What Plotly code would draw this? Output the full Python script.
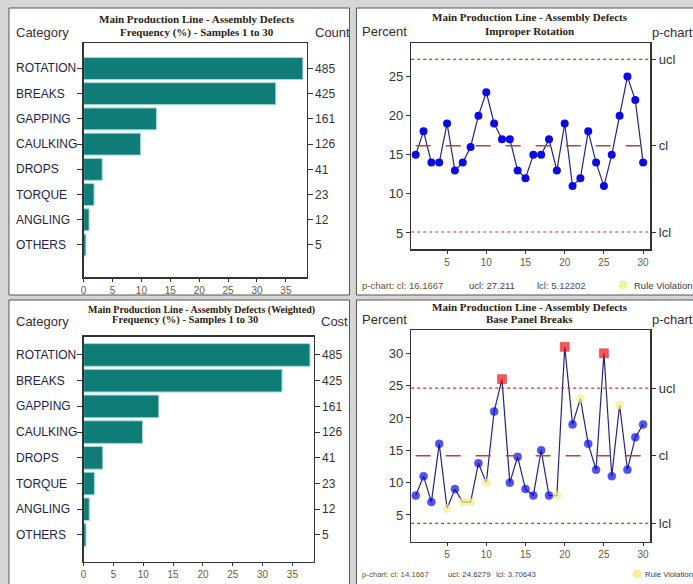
import plotly.graph_objects as go

W, H = 693, 584

# ---------------- data ----------------
categories = ["ROTATION", "BREAKS", "GAPPING", "CAULKING", "DROPS", "TORQUE", "ANGLING", "OTHERS"]
counts = [485, 425, 161, 126, 41, 23, 12, 5]
costs = [485, 425, 161, 126, 41, 23, 12, 5]

samples = list(range(1, 31))
rotation_pct = [15, 18, 14, 14, 19, 13, 14, 16, 20, 23, 19, 17, 17, 13, 12,
                15, 15, 17, 13, 19, 11, 12, 18, 14, 11, 15, 20, 25, 22, 14]
breaks_pct = [8, 11, 7, 16, 6, 9, 7, 7, 13, 10, 21, 26, 10, 14, 9,
              8, 15, 8, 8, 31, 19, 23, 16, 12, 30, 11, 22, 12, 17, 19]
breaks_rule_violation = [5, 7, 8, 10, 19, 22, 27]
breaks_out_of_control = [12, 20, 25]

rot_cl, rot_ucl, rot_lcl = 16.1667, 27.211, 5.12202
brk_cl, brk_ucl, brk_lcl = 14.1667, 24.6279, 3.70643

freq_ticks = [0, 5, 10, 15, 20, 25, 30, 35]
sample_ticks = [5, 10, 15, 20, 25, 30]
rot_yticks = [5, 10, 15, 20, 25]
brk_yticks = [5, 10, 15, 20, 25, 30]

# ---------------- helpers ----------------
def px(x):
    return x / W

def py(y):
    return 1 - y / H

AX = "#333333"
TXT = "#2a2a3a"
TICKNUM = "#6e5a3a"
TEAL = "#0f7c78"
RED = "#c0392b"

pct_count = [c / sum(counts) * 100 for c in counts]
pct_cost = [c / sum(costs) * 100 for c in costs]
idx = list(range(len(categories)))

fig = go.Figure()

# bar charts
fig.add_trace(go.Bar(x=pct_count, y=idx, orientation="h", width=0.87,
                     marker=dict(color=TEAL, line=dict(color="#9fdcd8", width=1)),
                     xaxis="x", yaxis="y", hoverinfo="skip"))
fig.add_trace(go.Scatter(x=[0], y=[0], xaxis="x", yaxis="y2", mode="markers",
                         marker=dict(opacity=0), hoverinfo="skip"))
fig.add_trace(go.Bar(x=pct_cost, y=idx, orientation="h", width=0.88,
                     marker=dict(color=TEAL, line=dict(color="#9fdcd8", width=1)),
                     xaxis="x2", yaxis="y3", hoverinfo="skip"))
fig.add_trace(go.Scatter(x=[0], y=[0], xaxis="x2", yaxis="y4", mode="markers",
                         marker=dict(opacity=0), hoverinfo="skip"))

# p-chart: improper rotation
fig.add_trace(go.Scatter(x=samples, y=rotation_pct, mode="lines+markers",
                         line=dict(color="#24247e", width=1.2),
                         marker=dict(color="#0a0ae6", size=8),
                         xaxis="x3", yaxis="y5", hoverinfo="skip"))
fig.add_trace(go.Scatter(x=[1], y=[rot_cl], xaxis="x3", yaxis="y6", mode="markers",
                         marker=dict(opacity=0), hoverinfo="skip"))

# p-chart: base panel breaks
brk_colors, brk_symbols, brk_sizes, brk_lines = [], [], [], []
for s in samples:
    if s in breaks_out_of_control:
        brk_colors.append("#f01010"); brk_symbols.append("square"); brk_sizes.append(9)
        brk_lines.append("#c00000")
    elif s in breaks_rule_violation:
        brk_colors.append("#f4f08a"); brk_symbols.append("circle"); brk_sizes.append(8)
        brk_lines.append("#ece47a")
    else:
        brk_colors.append("#0a0ae6"); brk_symbols.append("circle"); brk_sizes.append(8)
        brk_lines.append("#0a0ae6")
fig.add_trace(go.Scatter(x=samples, y=breaks_pct, mode="lines+markers",
                         line=dict(color="#24247e", width=1.2),
                         marker=dict(color=brk_colors, symbol=brk_symbols, size=brk_sizes,
                                     line=dict(color=brk_lines, width=0.6)),
                         xaxis="x4", yaxis="y7", hoverinfo="skip"))
fig.add_trace(go.Scatter(x=[1], y=[brk_cl], xaxis="x4", yaxis="y8", mode="markers",
                         marker=dict(opacity=0), hoverinfo="skip"))

base = dict(showline=True, linecolor=AX, linewidth=1.5, mirror=True, ticks="outside",
            tickcolor=AX, showgrid=False, zeroline=False, fixedrange=True)
xnum = dict(base, tickfont=dict(family="Liberation Sans", size=10, color=TICKNUM), ticklen=3)

layout_axes = dict(
    xaxis=dict(xnum, domain=[px(81), px(305)], anchor="y", range=[0, 38.6], tickvals=freq_ticks),
    yaxis=dict(base, domain=[py(277), py(43)], anchor="x", range=[8.27, -1.01],
               tickvals=idx, showticklabels=False, ticklen=5),
    yaxis2=dict(overlaying="y", side="right", anchor="x", range=[8.27, -1.01],
                tickvals=idx, ticktext=[str(c) for c in counts], ticks="outside",
                ticklen=5, tickcolor=AX, showgrid=False, zeroline=False, showline=False,
                tickfont=dict(family="Liberation Sans", size=12, color="#333")),
    xaxis2=dict(xnum, domain=[px(81), px(312)], anchor="y3", range=[0, 38.56], tickvals=freq_ticks),
    yaxis3=dict(base, domain=[py(561.7), py(336.7)], anchor="x2", range=[8.04, -0.71],
                tickvals=idx, showticklabels=False, ticklen=5),
    yaxis4=dict(overlaying="y3", side="right", anchor="x2", range=[8.04, -0.71],
                tickvals=idx, ticktext=[str(c) for c in costs], ticks="outside",
                ticklen=5, tickcolor=AX, showgrid=False, zeroline=False, showline=False,
                tickfont=dict(family="Liberation Sans", size=12, color="#333")),
    xaxis3=dict(xnum, domain=[px(410), px(650)], anchor="y5", range=[0.43, 30.9],
                tickvals=sample_ticks),
    yaxis5=dict(base, domain=[py(249), py(43)], anchor="x3", range=[2.95, 29.3],
                tickvals=rot_yticks, ticklen=4,
                tickfont=dict(family="Liberation Sans", size=13, color="#333")),
    yaxis6=dict(overlaying="y5", side="right", anchor="x3", range=[2.95, 29.3],
                tickvals=[rot_lcl, rot_cl, rot_ucl], ticktext=["lcl", "cl", "ucl"],
                ticks="outside", ticklen=5, tickcolor=AX, showgrid=False, zeroline=False,
                showline=False, tickfont=dict(family="Liberation Sans", size=13, color="#333")),
    xaxis4=dict(xnum, domain=[px(410), px(650)], anchor="y7", range=[0.43, 30.9],
                tickvals=sample_ticks),
    yaxis7=dict(base, domain=[py(541.7), py(330)], anchor="x4", range=[0.87, 33.6],
                tickvals=brk_yticks, ticklen=4,
                tickfont=dict(family="Liberation Sans", size=13, color="#333")),
    yaxis8=dict(overlaying="y7", side="right", anchor="x4", range=[0.87, 33.6],
                tickvals=[brk_lcl, brk_cl, brk_ucl], ticktext=["lcl", "cl", "ucl"],
                ticks="outside", ticklen=5, tickcolor=AX, showgrid=False, zeroline=False,
                showline=False, tickfont=dict(family="Liberation Sans", size=13, color="#333")),
)

shapes = []
# panels
for (x0, y0, x1, y1) in [(6, 8, 348, 295), (355, 8, 700, 295), (6, 300, 348, 590), (355, 300, 700, 590)]:
    shapes.append(dict(type="rect", xref="paper", yref="paper", x0=px(x0), x1=px(x1),
                       y0=py(y1), y1=py(y0), fillcolor="white",
                       line=dict(color="#555555", width=1), layer="below"))
# control lines
for xa, ya, cl, ucl, lcl in [("x3", "y5", rot_cl, rot_ucl, rot_lcl), ("x4", "y7", brk_cl, brk_ucl, brk_lcl)]:
    for v in (ucl, lcl):
        shapes.append(dict(type="line", xref=xa + " domain", x0=0, x1=1, yref=ya, y0=v, y1=v,
                           line=dict(color=RED, width=1.2, dash="dot")))
    shapes.append(dict(type="line", xref=xa, x0=samples[0], x1=samples[-1], yref=ya, y0=cl, y1=cl,
                       line=dict(color="#b5443a", width=1.5, dash="longdash")))
# rule violation legend glyphs
for cx, cy in [(623, 285), (637, 574)]:
    shapes.append(dict(type="circle", xref="paper", yref="paper",
                       x0=px(cx - 4), x1=px(cx + 4), y0=py(cy + 4), y1=py(cy - 4),
                       fillcolor="#f6f29a", line=dict(color="#eee680", width=0.5)))

ann = []

def text(x, y, t, size=12, color=TXT, anchor="left", family="Liberation Sans", bold=False):
    if bold:
        t = "<b>" + t + "</b>"
    ann.append(dict(x=px(x), y=py(y), xref="paper", yref="paper", text=t, showarrow=False,
                    xanchor=anchor, yanchor="middle",
                    font=dict(family=family, size=size, color=color)))

SERIF = "Liberation Serif"
TITLEC = "#2a1c12"
# top-left
text(195, 19, "Main Production Line - Assembly Defects", 11, TITLEC, "center", SERIF, True)
text(195, 32, "Frequency (%) - Samples 1 to 30", 11, TITLEC, "center", SERIF, True)
text(11, 32, "Category", 13, "#3a2a3a")
text(311, 32, "Count", 13, "#3a2a3a")
# bottom-left
text(199, 310, "Main Production Line - Assembly Defects (Weighted)", 10, TITLEC, "center", SERIF, True)
text(183, 320, "Frequency (%) - Samples 1 to 30", 10.5, TITLEC, "center", SERIF, True)
text(11, 321, "Category", 13, "#3a2a3a")
text(317, 321, "Cost", 13, "#3a2a3a")
# top-right
text(529, 17, "Main Production Line - Assembly Defects", 11, TITLEC, "center", SERIF, True)
text(529, 31, "Improper Rotation", 11, TITLEC, "center", SERIF, True)
text(359, 31, "Percent", 13, "#3a2a1a")
text(650, 32, "p-chart", 13, "#3a2a3a")
text(359, 285, "p-chart: cl: %s" % rot_cl, 9.5, "#6a5030")
text(466, 285, "ucl: %s" % rot_ucl, 9.5, "#3a3a5a")
text(534, 285, "lcl: %s" % rot_lcl, 9.5, "#3a4a7a")
text(632, 285, "Rule Violation", 9.5, "#3a3a4a")
# bottom-right
text(529, 307, "Main Production Line - Assembly Defects", 11, TITLEC, "center", SERIF, True)
text(529, 319, "Base Panel Breaks", 11, TITLEC, "center", SERIF, True)
text(359, 319, "Percent", 13, "#3a2a1a")
text(650, 319, "p-chart", 13, "#3a2a3a")
text(359, 574, "p-chart: cl: %s" % brk_cl, 7.8, "#6a5030")
text(445, 574, "ucl: %s" % brk_ucl, 7.8, "#3a3a5a")
text(493, 574, "lcl: %s" % brk_lcl, 7.8, "#3a4a7a")
text(643, 574, "Rule Violation", 7.8, "#3a3a4a")

# category labels (left aligned)
for i, c in enumerate(categories):
    ann.append(dict(x=px(11), xref="paper", y=i, yref="y", text=c, showarrow=False,
                    xanchor="left", yanchor="middle",
                    font=dict(family="Liberation Sans", size=12, color="#1e1e4a")))
    ann.append(dict(x=px(11), xref="paper", y=i, yref="y3", text=c, showarrow=False,
                    xanchor="left", yanchor="middle",
                    font=dict(family="Liberation Sans", size=12, color="#1e1e4a")))

fig.update_layout(width=W, height=H, margin=dict(l=0, r=0, t=0, b=0),
                  paper_bgcolor="#d6d6d6", plot_bgcolor="white", showlegend=False,
                  shapes=shapes, annotations=ann, barmode="overlay", **layout_axes)

fig.write_html("out.html", config={"displayModeBar": False, "staticPlot": True},
               post_script="document.body.style.margin='0';document.body.style.padding='0';"
                           "document.body.style.overflow='hidden';")
